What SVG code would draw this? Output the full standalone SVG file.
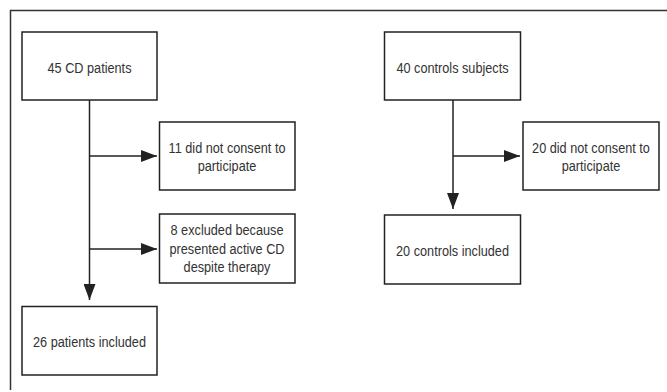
<svg xmlns="http://www.w3.org/2000/svg" width="667" height="392" viewBox="0 0 667 392">
<style>
.box{fill:#fff;stroke:#222;stroke-width:1.5}
.lbl{font-family:"Liberation Sans",Arial,sans-serif;font-size:15.5px;fill:#333;text-anchor:middle}
.con{fill:none;stroke:#222;stroke-width:1.5}
</style>
<defs>
<marker id="ah" markerWidth="16" markerHeight="12" refX="16" refY="6" orient="auto" markerUnits="userSpaceOnUse">
<path d="M0,0 L16,6 L0,12 Z" fill="#222"/>
</marker>
</defs>
<rect width="667" height="392" fill="#fff"/>
<path d="M10.5,390 V10.5 H667" fill="none" stroke="#333" stroke-width="1.5"/>
<g id="connectors">
<path class="con" d="M89.5,100 V300" marker-end="url(#ah)"/>
<path class="con" d="M89.5,156 H157" marker-end="url(#ah)"/>
<path class="con" d="M89.5,249 H157" marker-end="url(#ah)"/>
<path class="con" d="M453,100 V209" marker-end="url(#ah)"/>
<path class="con" d="M453,156 H520" marker-end="url(#ah)"/>
</g>
<g id="n1"><rect class="box" x="22" y="32" width="135" height="68"/><text class="lbl" transform="translate(89.5,72.5) scale(0.82,1)">45 CD patients</text></g>
<g id="n2"><rect class="box" x="159.5" y="122" width="135.5" height="68"/><text class="lbl" transform="translate(227,152.5) scale(0.82,1)">11 did not consent to</text><text class="lbl" transform="translate(227,170.5) scale(0.82,1)">participate</text></g>
<g id="n3"><rect class="box" x="159.5" y="214" width="135.5" height="69"/><text class="lbl" transform="translate(227,235) scale(0.82,1)">8 excluded because</text><text class="lbl" transform="translate(227,253.5) scale(0.82,1)">presented active CD</text><text class="lbl" transform="translate(227,271.5) scale(0.82,1)">despite therapy</text></g>
<g id="n4"><rect class="box" x="22" y="306.5" width="135" height="68.5"/><text class="lbl" transform="translate(89.5,346.5) scale(0.82,1)">26 patients included</text></g>
<g id="n5"><rect class="box" x="384.5" y="32" width="136" height="68"/><text class="lbl" transform="translate(452.5,72.5) scale(0.82,1)">40 controls subjects</text></g>
<g id="n6"><rect class="box" x="523" y="122" width="136" height="68"/><text class="lbl" transform="translate(591,152.5) scale(0.82,1)">20 did not consent to</text><text class="lbl" transform="translate(591,170.5) scale(0.82,1)">participate</text></g>
<g id="n7"><rect class="box" x="384.5" y="215" width="136" height="69"/><text class="lbl" transform="translate(452.5,256) scale(0.82,1)">20 controls included</text></g>
</svg>
